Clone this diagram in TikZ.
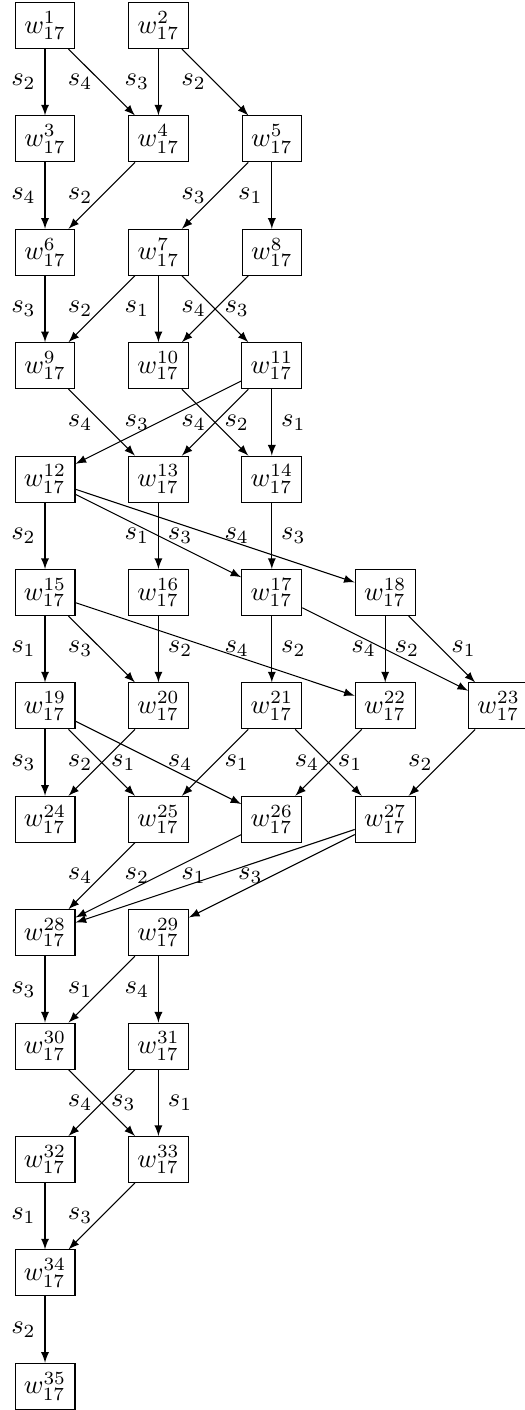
\documentclass[tikz,border=0pt]{standalone}
\begin{document}
\begin{tikzpicture}[x=1.5cm, y=-1.5cm,
  box/.style={draw, rectangle},
  arr/.style={-latex},
  L/.style={left},
  R/.style={right}]
\useasboundingbox (-0.397,-0.225) rectangle (4.224,12.209);
% nodes
\node[box] (w1)  at (0,0)  {$w^{1}_{17}$};
\node[box] (w2)  at (1,0)  {$w^{2}_{17}$};
\node[box] (w3)  at (0,1)  {$w^{3}_{17}$};
\node[box] (w4)  at (1,1)  {$w^{4}_{17}$};
\node[box] (w5)  at (2,1)  {$w^{5}_{17}$};
\node[box] (w6)  at (0,2)  {$w^{6}_{17}$};
\node[box] (w7)  at (1,2)  {$w^{7}_{17}$};
\node[box] (w8)  at (2,2)  {$w^{8}_{17}$};
\node[box] (w9)  at (0,3)  {$w^{9}_{17}$};
\node[box] (w10) at (1,3)  {$w^{10}_{17}$};
\node[box] (w11) at (2,3)  {$w^{11}_{17}$};
\node[box] (w12) at (0,4)  {$w^{12}_{17}$};
\node[box] (w13) at (1,4)  {$w^{13}_{17}$};
\node[box] (w14) at (2,4)  {$w^{14}_{17}$};
\node[box] (w15) at (0,5)  {$w^{15}_{17}$};
\node[box] (w16) at (1,5)  {$w^{16}_{17}$};
\node[box] (w17) at (2,5)  {$w^{17}_{17}$};
\node[box] (w18) at (3,5)  {$w^{18}_{17}$};
\node[box] (w19) at (0,6)  {$w^{19}_{17}$};
\node[box] (w20) at (1,6)  {$w^{20}_{17}$};
\node[box] (w21) at (2,6)  {$w^{21}_{17}$};
\node[box] (w22) at (3,6)  {$w^{22}_{17}$};
\node[box] (w23) at (4,6)  {$w^{23}_{17}$};
\node[box] (w24) at (0,7)  {$w^{24}_{17}$};
\node[box] (w25) at (1,7)  {$w^{25}_{17}$};
\node[box] (w26) at (2,7)  {$w^{26}_{17}$};
\node[box] (w27) at (3,7)  {$w^{27}_{17}$};
\node[box] (w28) at (0,8)  {$w^{28}_{17}$};
\node[box] (w29) at (1,8)  {$w^{29}_{17}$};
\node[box] (w30) at (0,9)  {$w^{30}_{17}$};
\node[box] (w31) at (1,9)  {$w^{31}_{17}$};
\node[box] (w32) at (0,10) {$w^{32}_{17}$};
\node[box] (w33) at (1,10) {$w^{33}_{17}$};
\node[box] (w34) at (0,11) {$w^{34}_{17}$};
\node[box] (w35) at (0,12) {$w^{35}_{17}$};
% edges
\draw[arr] (w1) -- node[L]{$s_2$} (w3);
\draw[arr] (w1) -- node[L]{$s_4$} (w4);
\draw[arr] (w2) -- node[L]{$s_3$} (w4);
\draw[arr] (w2) -- node[L]{$s_2$} (w5);
\draw[arr] (w3) -- node[L]{$s_4$} (w6);
\draw[arr] (w4) -- node[L]{$s_2$} (w6);
\draw[arr] (w5) -- node[L]{$s_3$} (w7);
\draw[arr] (w5) -- node[L]{$s_1$} (w8);
\draw[arr] (w6) -- node[L]{$s_3$} (w9);
\draw[arr] (w7) -- node[L]{$s_2$} (w9);
\draw[arr] (w7) -- node[L]{$s_1$} (w10);
\draw[arr] (w8) -- node[L]{$s_4$} (w10);
\draw[arr] (w7) -- node[R]{$s_3$} (w11);
\draw[arr] (w9) -- node[L]{$s_4$} (w13);
\draw[arr] (w11) -- node[L]{$s_3$} (w12);
\draw[arr] (w11) -- node[L]{$s_4$} (w13);
\draw[arr] (w10) -- node[R]{$s_2$} (w14);
\draw[arr] (w11) -- node[R]{$s_1$} (w14);
\draw[arr] (w12) -- node[L]{$s_2$} (w15);
\draw[arr] (w13) -- node[L]{$s_1$} (w16);
\draw[arr] (w12) -- node[R]{$s_3$} (w17);
\draw[arr] (w12) -- node[R]{$s_4$} (w18);
\draw[arr] (w14) -- node[R]{$s_3$} (w17);
\draw[arr] (w15) -- node[L]{$s_1$} (w19);
\draw[arr] (w15) -- node[L]{$s_3$} (w20);
\draw[arr] (w16) -- node[R]{$s_2$} (w20);
\draw[arr] (w15) -- node[R]{$s_4$} (w22);
\draw[arr] (w17) -- node[R]{$s_2$} (w21);
\draw[arr] (w18) -- node[L]{$s_4$} (w22);
\draw[arr] (w17) -- node[R]{$s_2$} (w23);
\draw[arr] (w18) -- node[R]{$s_1$} (w23);
\draw[arr] (w19) -- node[L]{$s_3$} (w24);
\draw[arr] (w20) -- node[L]{$s_2$} (w24);
\draw[arr] (w19) -- node[R]{$s_1$} (w25);
\draw[arr] (w19) -- node[R]{$s_4$} (w26);
\draw[arr] (w21) -- node[R]{$s_1$} (w25);
\draw[arr] (w22) -- node[L]{$s_4$} (w26);
\draw[arr] (w21) -- node[R]{$s_1$} (w27);
\draw[arr] (w23) -- node[L]{$s_2$} (w27);
\draw[arr] (w25) -- node[L]{$s_4$} (w28);
\draw[arr] (w26) -- node[L]{$s_2$} (w28);
\draw[arr] (w27) -- node[L]{$s_1$} (w28);
\draw[arr] (w27) -- node[L]{$s_3$} (w29);
\draw[arr] (w28) -- node[L]{$s_3$} (w30);
\draw[arr] (w29) -- node[L]{$s_1$} (w30);
\draw[arr] (w29) -- node[L]{$s_4$} (w31);
\draw[arr] (w31) -- node[L]{$s_4$} (w32);
\draw[arr] (w30) -- node[R]{$s_3$} (w33);
\draw[arr] (w31) -- node[R]{$s_1$} (w33);
\draw[arr] (w32) -- node[L]{$s_1$} (w34);
\draw[arr] (w33) -- node[L]{$s_3$} (w34);
\draw[arr] (w34) -- node[L]{$s_2$} (w35);
\end{tikzpicture}
\end{document}
